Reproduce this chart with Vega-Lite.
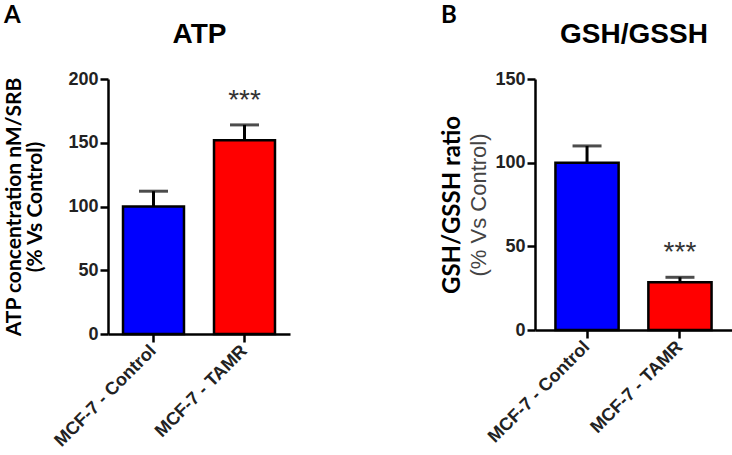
{
  "$schema": "https://vega.github.io/schema/vega-lite/v6.json",
  "padding": {"left": 3, "top": 4, "right": 0, "bottom": 0},
  "spacing": 150,
  "config": {
    "view": {"stroke": null},
    "axis": {"domainColor": "#000", "domainWidth": 2.5, "tickColor": "#000", "tickWidth": 2.5, "tickSize": 8, "labelFont": "Liberation Sans", "labelFontWeight": "bold", "labelFontSize": 18, "labelColor": "#222", "grid": false}
  },
  "hconcat": [
    {
      "title": {"text": "A", "anchor": "start", "frame": "bounds", "font": "Lato", "fontSize": 24, "fontWeight": "bold", "color": "#000", "offset": -8},
      "width": 182,
      "height": 255,
      "data": {"values": [
        {"group": "MCF-7 - Control", "value": 100, "upper": 112, "sig": ""},
        {"group": "MCF-7 - TAMR", "value": 152, "upper": 164, "sig": "***"}
      ]},
      "layer": [
        {
          "mark": {"type": "bar", "stroke": "#000", "strokeWidth": 2.5},
          "encoding": {
            "x": {"field": "group", "type": "nominal", "sort": null, "scale": {"paddingInner": 0.33, "paddingOuter": 0.165}, "axis": {"title": null, "labelAngle": -45, "labelBaseline": "middle", "labelFontSize": 18, "labelPadding": 6}},
            "y": {"field": "value", "type": "quantitative", "scale": {"domain": [0, 200], "nice": false}, "axis": {"values": [0, 50, 100, 150, 200], "title": ["ATP concentration nM/SRB", "(% Vs Control)"], "titleFont": "Lato", "titleFontSize": 21, "titleFontWeight": "bold", "titleColor": "#000", "titlePadding": 22, "titleLineHeight": 21}},
            "color": {"field": "group", "type": "nominal", "scale": {"range": ["#0000ff", "#ff0000"]}, "legend": null}
          }
        },
        {
          "mark": {"type": "rule", "strokeWidth": 3, "color": "#000"},
          "encoding": {
            "x": {"field": "group", "type": "nominal", "sort": null, "axis": {"orient": "top", "title": "ATP", "labels": false, "ticks": false, "domain": false, "titleFont": "Liberation Sans", "titleFontSize": 28, "titleFontWeight": "bold", "titleColor": "#000", "titlePadding": 31}},
            "y": {"field": "value", "type": "quantitative", "axis": null},
            "y2": {"field": "upper"}
          }
        },
        {
          "mark": {"type": "tick", "size": 29, "thickness": 3, "color": "#000"},
          "encoding": {
            "x": {"field": "group", "type": "nominal", "sort": null, "axis": null},
            "y": {"field": "upper", "type": "quantitative", "axis": null}
          }
        },
        {
          "mark": {"type": "text", "font": "Liberation Sans", "fontSize": 28, "color": "#333", "baseline": "middle", "dy": -24},
          "encoding": {
            "x": {"field": "group", "type": "nominal", "sort": null, "axis": null},
            "y": {"field": "upper", "type": "quantitative", "axis": null},
            "text": {"field": "sig"}
          }
        }
      ],
      "resolve": {"axis": {"x": "independent", "y": "independent"}}
    },
    {
      "title": {"text": "B", "anchor": "start", "frame": "bounds", "font": "Lato", "fontSize": 24, "fontWeight": "bold", "color": "#000", "offset": -8},
      "width": 197,
      "height": 251,
      "data": {"values": [
        {"group": "MCF-7 - Control", "value": 100, "upper": 110, "sig": ""},
        {"group": "MCF-7 - TAMR", "value": 28.5, "upper": 31.5, "sig": "***"}
      ]},
      "layer": [
        {
          "mark": {"type": "bar", "stroke": "#000", "strokeWidth": 2.5},
          "encoding": {
            "x": {"field": "group", "type": "nominal", "sort": null, "scale": {"paddingInner": 0.32, "paddingOuter": 0.22}, "axis": {"title": null, "labelAngle": -45, "labelBaseline": "middle", "labelFontSize": 18, "labelPadding": 6}},
            "y": {"field": "value", "type": "quantitative", "scale": {"domain": [0, 150], "nice": false}, "axis": {"values": [0, 50, 100, 150], "title": "GSH/GSSH ratio", "titleFont": "Lato", "titleFontSize": 24, "titleFontWeight": "bold", "titleColor": "#000", "titlePadding": 30}},
            "color": {"field": "group", "type": "nominal", "scale": {"range": ["#0000ff", "#ff0000"]}, "legend": null}
          }
        },
        {
          "mark": {"type": "rule", "strokeWidth": 3, "color": "#000"},
          "encoding": {
            "x": {"field": "group", "type": "nominal", "sort": null, "axis": {"orient": "top", "title": "GSH/GSSH", "labels": false, "ticks": false, "domain": false, "titleFont": "Liberation Sans", "titleFontSize": 28, "titleFontWeight": "bold", "titleColor": "#000", "titlePadding": 31}},
            "y": {"field": "value", "type": "quantitative", "axis": {"orient": "left", "title": "(% Vs Control)", "labels": false, "ticks": false, "domain": false, "titleFont": "Liberation Sans", "titleFontSize": 22, "titleFontWeight": "normal", "titleColor": "#444", "titlePadding": 45}},
            "y2": {"field": "upper"}
          }
        },
        {
          "mark": {"type": "tick", "size": 29, "thickness": 3, "color": "#000"},
          "encoding": {
            "x": {"field": "group", "type": "nominal", "sort": null, "axis": null},
            "y": {"field": "upper", "type": "quantitative", "axis": null}
          }
        },
        {
          "mark": {"type": "text", "font": "Liberation Sans", "fontSize": 28, "color": "#333", "baseline": "middle", "dy": -24},
          "encoding": {
            "x": {"field": "group", "type": "nominal", "sort": null, "axis": null},
            "y": {"field": "upper", "type": "quantitative", "axis": null},
            "text": {"field": "sig"}
          }
        }
      ],
      "resolve": {"axis": {"x": "independent", "y": "independent"}}
    }
  ]
}
